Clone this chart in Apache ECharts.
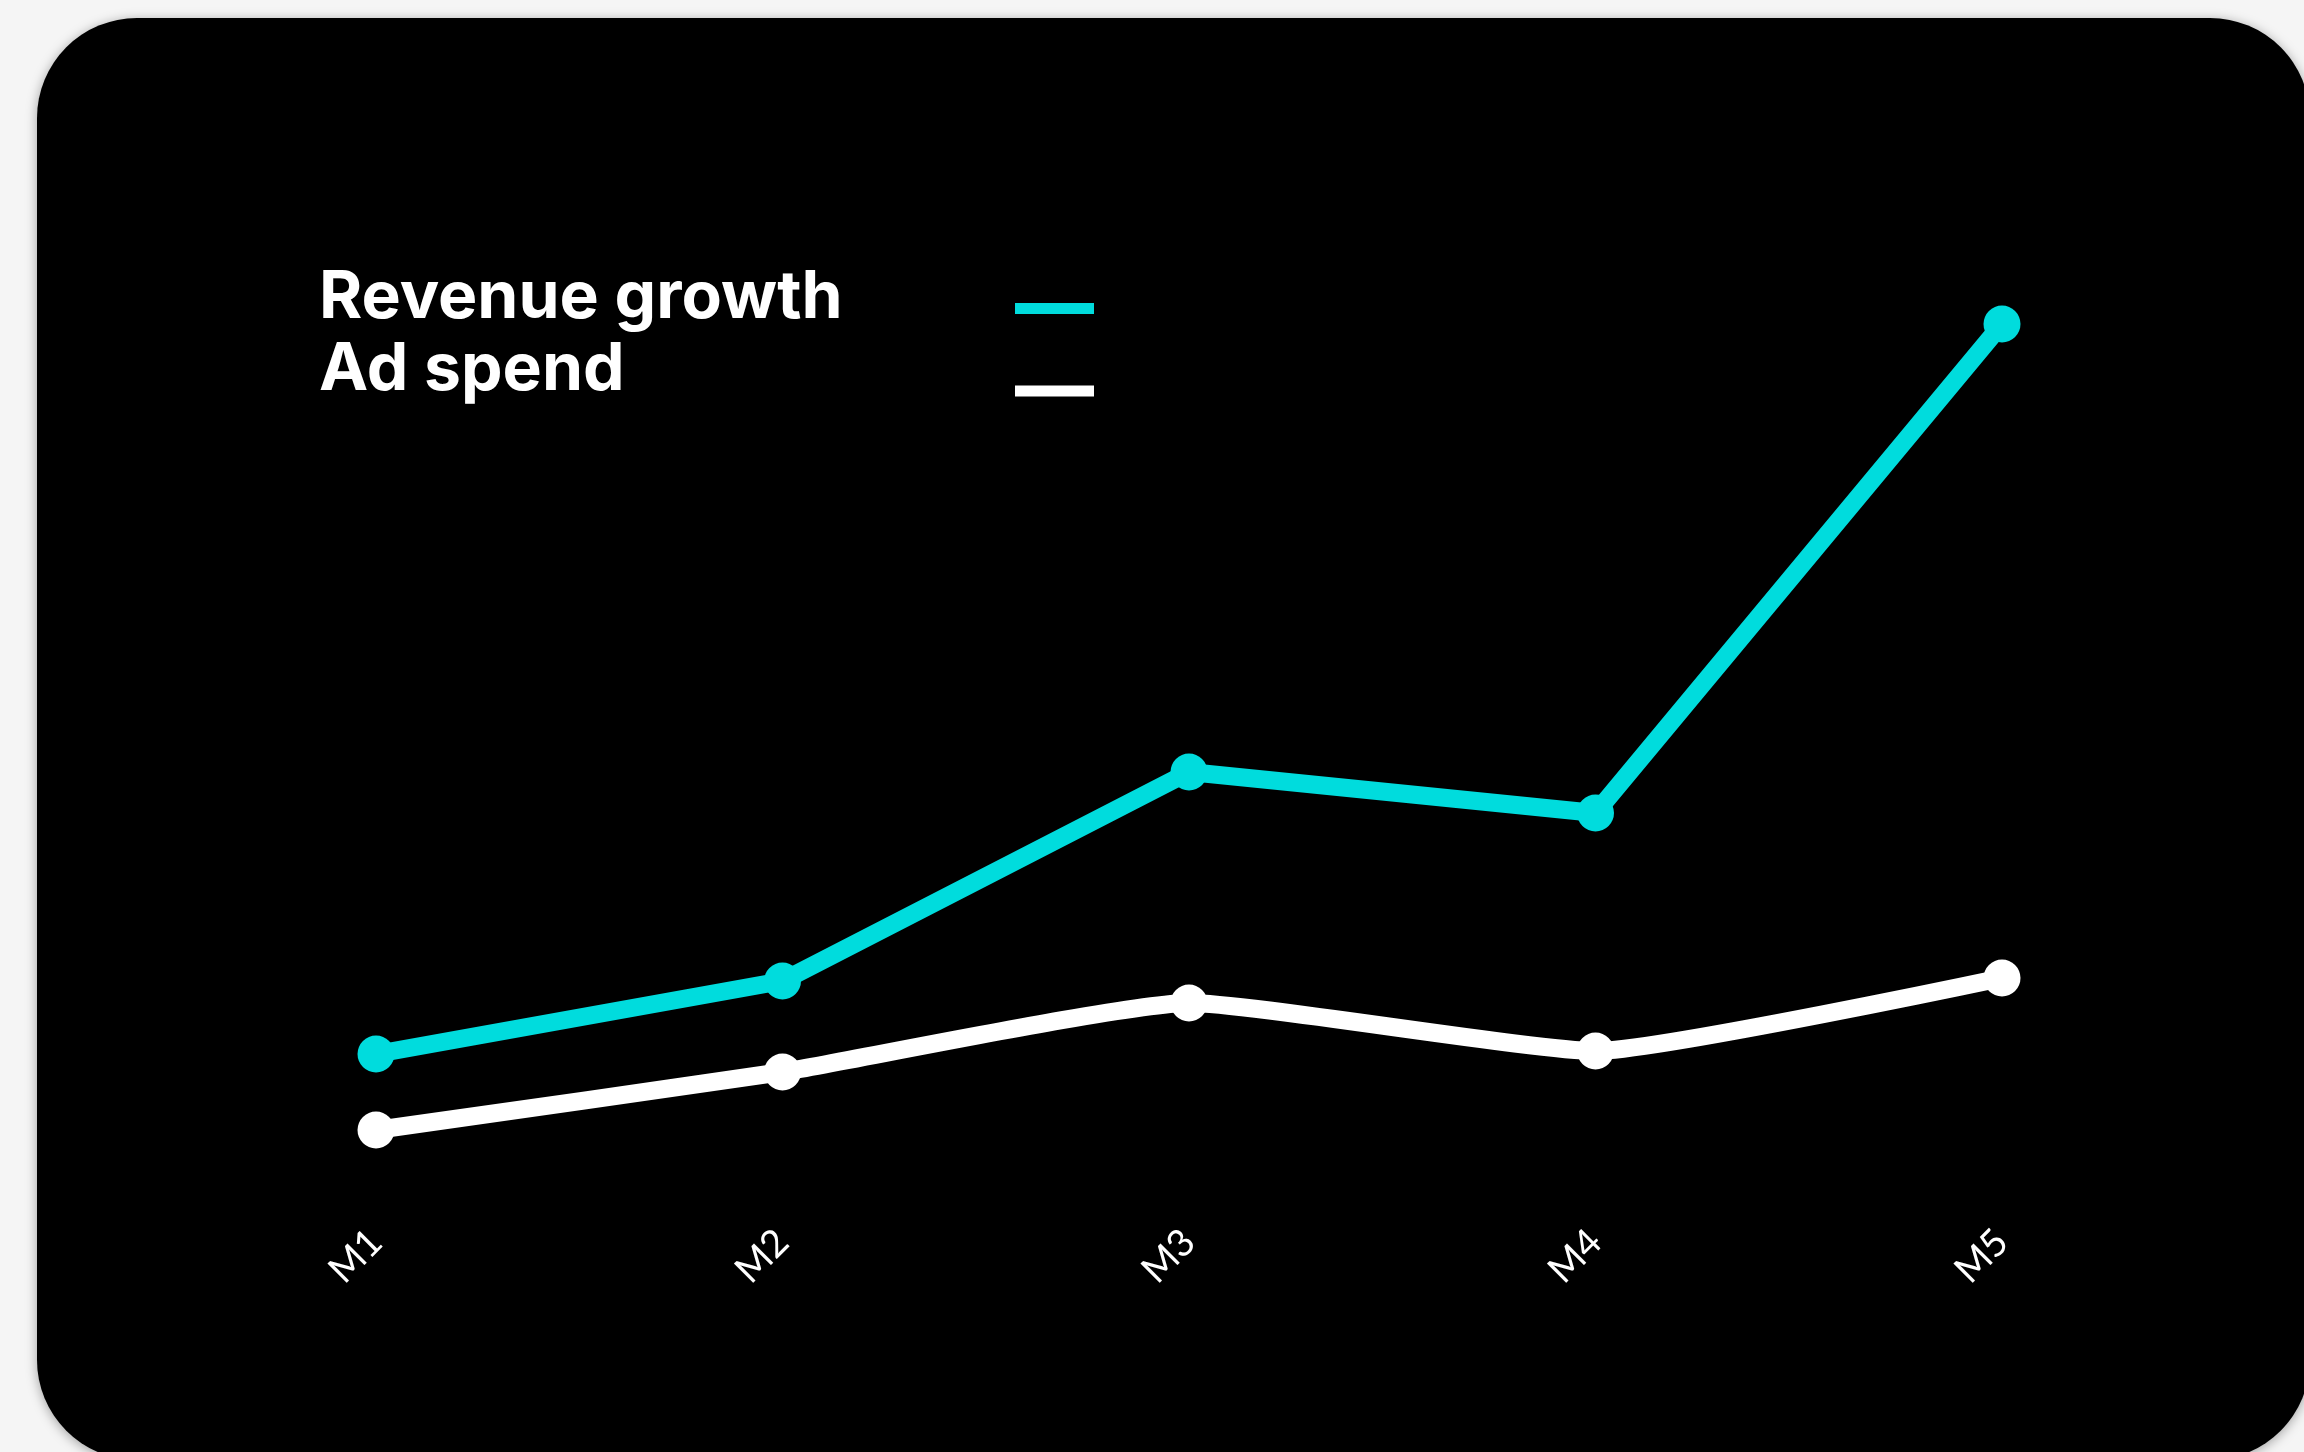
<!DOCTYPE html>
<html>
<head>
<meta charset="utf-8">
<script src="https://cdn.jsdelivr.net/npm/echarts@6/dist/echarts.min.js"></script>
<style>
  html, body { margin: 0; padding: 0; width: 2304px; height: 1452px; overflow: hidden; background: #f5f5f5; }
  #card { position: absolute; left: 37px; top: 18px; width: 2273px; height: 1442px; background: #000; border-radius: 100px; box-shadow: 0 2px 12px rgba(0,0,0,0.35); }
  #chart { position: absolute; left: 0; top: 0; width: 2304px; height: 1452px; }
</style>
</head>
<body>
<div id="card"></div>
<div id="chart"></div>
<script>
const categories = ['M1', 'M2', 'M3', 'M4', 'M5'];
const revenueGrowth = [17.6, 24.9, 45.8, 41.7, 90.6];
const adSpend = [10.0, 15.8, 22.7, 17.9, 25.2];
const seriesNames = ['Revenue growth', 'Ad spend'];

const CYAN = '#00dcdd';
const WHITE = '#ffffff';
const legendFont = 'Inter';

function legendCfg(name, top, padBottom) {
  return {
    show: true,
    data: [name],
    left: 314,
    top: top,
    orient: 'vertical',
    align: 'right',
    icon: 'rect',
    itemWidth: 79,
    itemHeight: 11,
    selectedMode: false,
    formatter: n => '{a|' + n + '}',
    textStyle: {
      color: '#fff',
      rich: {
        a: {
          fontFamily: legendFont,
          fontWeight: 700,
          fontSize: 66,
          color: '#fff',
          width: 691,
          align: 'left',
          lineHeight: 80,
          padding: [0, 0, padBottom, 0]
        }
      }
    }
  };
}

const chart = echarts.init(document.getElementById('chart'), null, { renderer: 'canvas' });
chart.setOption({
  backgroundColor: 'transparent',
  animation: false,
  legend: [
    legendCfg(seriesNames[0], 260, 21),
    legendCfg(seriesNames[1], 332, 42)
  ],
  grid: { left: 376, right: 302, top: 230, bottom: 222, containLabel: false },
  xAxis: {
    type: 'category',
    data: categories,
    boundaryGap: false,
    axisLine: { show: false },
    axisTick: { show: false },
    splitLine: { show: false },
    axisLabel: {
      rotate: 45,
      margin: 6,
      color: '#fff',
      fontFamily: 'Lato',
      fontWeight: 400,
      fontSize: 38
    }
  },
  yAxis: {
    type: 'value',
    min: 0,
    max: 100,
    show: false,
    splitLine: { show: false }
  },
  series: [
    {
      name: seriesNames[0],
      type: 'line',
      data: revenueGrowth,
      color: CYAN,
      lineStyle: { width: 18, color: CYAN },
      itemStyle: { color: CYAN },
      symbol: 'circle',
      symbolSize: 37,
      z: 3
    },
    {
      name: seriesNames[1],
      type: 'line',
      data: adSpend,
      smooth: 0.15,
      color: WHITE,
      lineStyle: { width: 18, color: WHITE },
      itemStyle: { color: WHITE },
      symbol: 'circle',
      symbolSize: 37,
      z: 2
    }
  ]
});
</script>
</body>
</html>
